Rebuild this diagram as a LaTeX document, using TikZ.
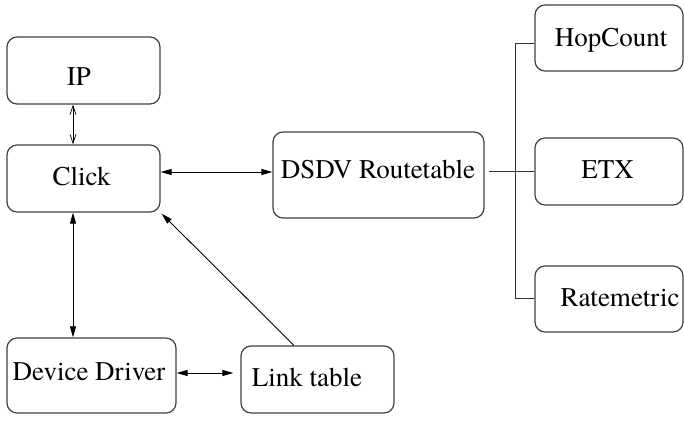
\documentclass[tikz,border=0pt]{standalone}
\usepackage{fontspec}
\setmainfont{texgyretermes-regular.otf}
\usetikzlibrary{arrows.meta}
\begin{document}
\begin{tikzpicture}[x=1pt,y=-1pt,
  box/.style={draw=black!75,line width=1.2pt,rounded corners=10pt,inner sep=0pt},
  lbl/.style={anchor=base,inner sep=0pt,font=\fontsize{27}{32}\selectfont},
  arr/.style={draw=black,line width=0.9pt,{Triangle[length=11pt,width=6pt]}-{Triangle[length=11pt,width=6pt]}},
  oarr/.style={draw=black,line width=0.7pt,{Straight Barb[length=9pt,width=6pt]}-{Straight Barb[length=9pt,width=6pt]}},
  ln/.style={draw=black!80,line width=1pt}]
\useasboundingbox (0,0) rectangle (684,420);
% boxes
\node[box,minimum width=153pt,minimum height=67pt] (ip) at (83.5,70.5) {};
\node[box,minimum width=153pt,minimum height=67pt] (click) at (83.5,178.5) {};
\node[box,minimum width=211pt,minimum height=86pt] (dsdv) at (378.5,175) {};
\node[box,minimum width=148pt,minimum height=66pt] (hop) at (609,38) {};
\node[box,minimum width=148pt,minimum height=67pt] (etx) at (609,171.5) {};
\node[box,minimum width=148pt,minimum height=66pt] (rate) at (609,299) {};
\node[box,minimum width=169pt,minimum height=75pt] (dev) at (91.5,375.5) {};
\node[box,minimum width=153pt,minimum height=67pt] (link) at (317.5,379.5) {};
% texts
\node[lbl] (iptxt) at (79,85) {IP};
\node[lbl] (clicktxt) at (81.5,185) {Click};
\node[lbl] (dsdvtxt) at (378,178) {DSDV Routetable};
\node[lbl] (hoptxt) at (611,46) {HopCount};
\node[lbl] (etxtxt) at (607.5,178) {ETX};
\node[lbl] (ratetxt) at (620,306) {Ratemetric};
\node[lbl] (devtxt) at (89,380) {Device Driver};
\node[lbl] (linktxt) at (307,386) {Link table};
% connectors
\draw[oarr] ([xshift=-10.5pt]ip.south) -- ([xshift=-10.5pt]ip.south |- click.north);
\draw[arr] ([yshift=6.5pt]click.east) -- ([yshift=6.5pt]click.east -| dsdv.west);
\draw[arr] ([xshift=-10.5pt]click.south) -- ([xshift=-10.5pt]click.south |- dev.north);
\draw[arr] ([yshift=2.5pt]dev.east) -- ([yshift=2.5pt,xshift=-7pt]dev.east -| link.west);
\draw[line width=0.9pt,-{Triangle[length=11pt,width=6pt]}] ([xshift=-23.5pt]link.north) -- ([xshift=1pt,yshift=-1pt]click.south east);
% tree to metrics
\coordinate (bt) at (515,44);
\coordinate (bb) at (515,298);
\draw[ln] ([xshift=4pt]dsdv.east |- etx.west) -- (etx.west);
\draw[ln] (hop.west |- bt) -- (bt) -- (bb) -- (rate.west |- bb);
\end{tikzpicture}
\end{document}
